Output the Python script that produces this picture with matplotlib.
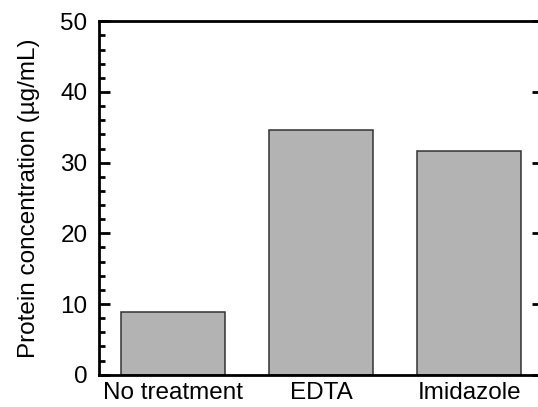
import matplotlib
matplotlib.use("Agg")
import matplotlib.pyplot as plt
from matplotlib.ticker import MultipleLocator

plt.rcParams['font.family'] = ['Liberation Sans', 'DejaVu Sans']

# Protein concentration after each treatment
treatments = ['No treatment', 'EDTA', 'Imidazole']
concentration = [8.8, 34.6, 31.7]

fig = plt.figure(figsize=(5.38, 4.07), dpi=100)
ax = fig.add_axes([0.1835, 0.0794, 0.8267, 0.8683])

x = range(len(treatments))
ax.bar(x, concentration, width=0.7, color='#b3b3b3', edgecolor='#333333',
       linewidth=1.1, zorder=2)

ax.set_xlim(-0.5, 2.5)
ax.set_ylim(0, 50)
ax.set_xticks(list(x))
ax.set_xticklabels(treatments)
ax.yaxis.set_major_locator(MultipleLocator(10))
ax.yaxis.set_minor_locator(MultipleLocator(2))

for side in ['left', 'bottom', 'top', 'right']:
    ax.spines[side].set_linewidth(2)
ax.spines['right'].set_visible(False)

ax.tick_params(axis='y', which='major', direction='in', length=8, width=2,
               labelsize=17.5, pad=8, right=True)
ax.tick_params(axis='y', which='minor', direction='in', length=4, width=2,
               right=False)
ax.tick_params(axis='x', length=0, labelsize=17.5, pad=5)

ax.set_ylabel('Protein concentration (µg/mL)', fontsize=17.5, labelpad=15)

fig.savefig('out.png', dpi=100)
